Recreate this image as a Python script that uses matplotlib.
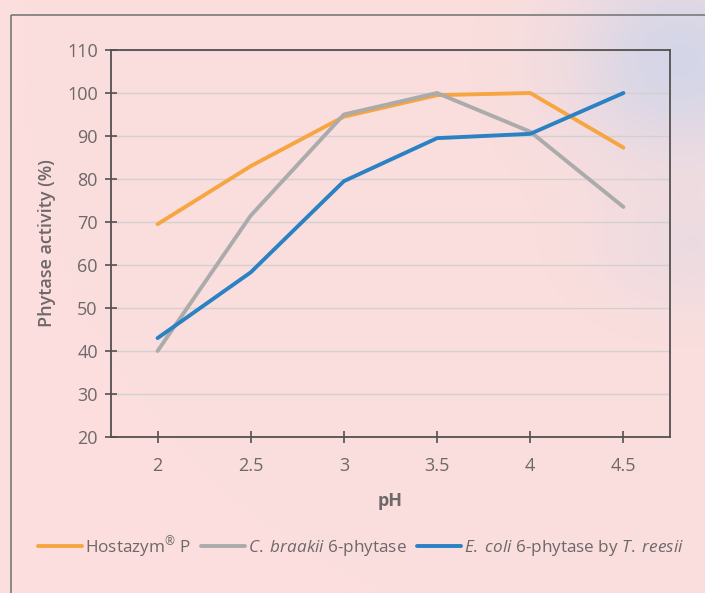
import matplotlib.pyplot as plt
import numpy as np
from matplotlib.patches import Rectangle

plt.rcParams["font.family"] = ["Open Sans", "DejaVu Sans"]
plt.rcParams["mathtext.fontset"] = "custom"
plt.rcParams["mathtext.rm"] = "Open Sans"
plt.rcParams["mathtext.it"] = "Open Sans:italic"

ph = [2, 2.5, 3, 3.5, 4, 4.5]
ph_labels = ["2", "2.5", "3", "3.5", "4", "4.5"]
hostazym = [69.5, 83, 94.5, 99.5, 100, 87.3]
braakii = [40, 71.5, 95, 100, 91, 73.5]
ecoli = [43, 58.3, 79.5, 89.5, 90.5, 100]

series_labels = [
    r"Hostazym$^{\mathrm{®}}$ P",
    r"$\it{C.}$ $\it{braakii}$ 6-phytase",
    r"$\it{E.}$ $\it{coli}$ 6-phytase by $\it{T.}$ $\it{reesii}$",
]
colors = ["#F7A541", "#ABABAB", "#2A81C3"]

TEXT = "#6E6868"

fig = plt.figure(figsize=(7.05, 5.93), dpi=100)
fig.patch.set_facecolor("#FBDDDD")

# soft background tint (pink with a bluish glow top right)
bg = fig.add_axes([0, 0, 1, 1], zorder=-10)
yy, xx = np.mgrid[0:593, 0:705]
glow = np.exp(-(((xx - 680) / 110.0) ** 2 + ((yy - 60) / 100.0) ** 2))
glow2 = np.exp(-(((xx - 690) / 90.0) ** 2 + ((yy - 250) / 60.0) ** 2)) * 0.35
g = np.clip(glow + glow2, 0, 1)[..., None]
base = np.array([251, 222, 221]) / 255.0
tint = np.array([212, 214, 232]) / 255.0
img = base * (1 - g) + tint * g
bg.imshow(img, aspect="auto", extent=[0, 705, 593, 0])
bg.set_xlim(0, 705)
bg.set_ylim(593, 0)
bg.axis("off")
bg.add_patch(Rectangle((11, 15), 720, 600, fill=False, edgecolor="#7A7A7A", linewidth=1.2))

ax = fig.add_axes([111 / 705, 1 - 437 / 593, (670 - 111) / 705, (437 - 50) / 593])
ax.set_facecolor("none")

for vals, lab, col in zip([hostazym, braakii, ecoli], series_labels, colors):
    ax.plot(ph, vals, color=col, linewidth=2.8, label=lab, solid_capstyle="round", zorder=3)

ax.set_xlim(1.75, 4.75)
ax.set_ylim(20, 110)
ax.set_xticks(ph)
ax.set_xticklabels(ph_labels)
ax.set_yticks(np.arange(20, 111, 10))
ax.yaxis.grid(True, color="#D4D0D0", linewidth=1.0)
ax.set_axisbelow(True)

for side in ["left", "right", "top", "bottom"]:
    ax.spines[side].set_color("#555050")
    ax.spines[side].set_linewidth(1.3)
ax.tick_params(axis="both", direction="inout", length=9, width=1.2, colors="#555050",
               labelcolor=TEXT, labelsize=13)
ax.tick_params(axis="x", pad=10)
ax.tick_params(axis="y", pad=5)

ax.set_ylabel("Phytase activity (%)", fontsize=13, color=TEXT, fontweight="semibold", labelpad=8)
ax.set_xlabel("pH", fontsize=13, color=TEXT, fontweight="bold", labelpad=12)

handles, labels = ax.get_legend_handles_labels()
fig.legend(handles, labels, loc="center", bbox_to_anchor=(0.512, 0.078), ncol=3, frameon=False,
           fontsize=12.3, labelcolor=TEXT, handlelength=2.6, handletextpad=0.15, columnspacing=0.6)

fig.savefig("out.png", dpi=100, facecolor=fig.get_facecolor())
